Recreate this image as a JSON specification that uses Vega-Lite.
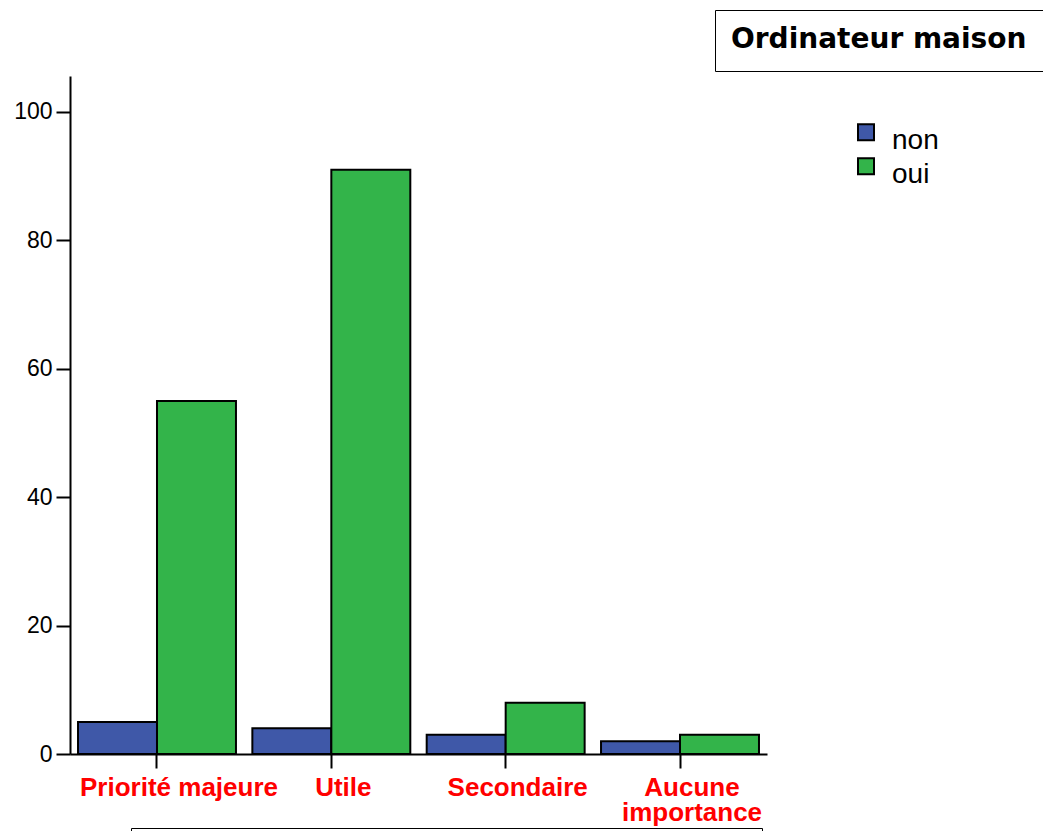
{
  "$schema": "https://vega.github.io/schema/vega-lite/v6.json",
  "width": 697,
  "height": 678,
  "autosize": {"type": "none"},
  "padding": {"left": 70, "top": 76, "right": 276, "bottom": 77},
  "background": "white",
  "config": {"view": {"stroke": null}},
  "data": {
    "values": [
      {"cat": "Priorité majeure", "grp": "non", "val": 5},
      {"cat": "Priorité majeure", "grp": "oui", "val": 55},
      {"cat": "Utile", "grp": "non", "val": 4},
      {"cat": "Utile", "grp": "oui", "val": 91},
      {"cat": "Secondaire", "grp": "non", "val": 3},
      {"cat": "Secondaire", "grp": "oui", "val": 8},
      {"cat": "Aucune importance", "grp": "non", "val": 2},
      {"cat": "Aucune importance", "grp": "oui", "val": 3}
    ]
  },
  "layer": [
    {
      "mark": {"type": "bar", "stroke": "black", "strokeWidth": 2},
      "encoding": {
        "x": {
          "field": "cat",
          "type": "nominal",
          "sort": ["Priorité majeure", "Utile", "Secondaire", "Aucune importance"],
          "scale": {"paddingInner": 0.094, "paddingOuter": 0.046},
          "title": null,
          "axis": {
            "labelAngle": 0,
            "labelColor": "#FF0000",
            "labelFont": "Liberation Sans",
            "labelFontWeight": "bold",
            "labelFontSize": 26,
            "labelLineHeight": 25,
            "labelLimit": 0,
            "labelPadding": 6,
            "labelOffset": {"condition": {"test": "datum.value == 'Priorité majeure'", "value": 22}, "value": 12},
            "labelExpr": "datum.label == 'Aucune importance' ? ['Aucune', 'importance'] : datum.label",
            "tickSize": 14,
            "tickWidth": 2,
            "tickColor": "black",
            "domainColor": "black",
            "domainWidth": 2
          }
        },
        "xOffset": {
          "field": "grp",
          "type": "nominal",
          "sort": ["non", "oui"],
          "scale": {"paddingInner": 0, "paddingOuter": 0}
        },
        "y": {
          "field": "val",
          "type": "quantitative",
          "scale": {"domain": [0, 105.6], "nice": false},
          "title": null,
          "axis": {
            "values": [0, 20, 40, 60, 80, 100],
            "grid": false,
            "labelFont": "Liberation Sans",
            "labelFontSize": 23,
            "labelColor": "black",
            "labelPadding": 4,
            "tickSize": 14,
            "tickWidth": 2,
            "tickColor": "black",
            "domainColor": "black",
            "domainWidth": 2
          }
        },
        "color": {
          "field": "grp",
          "type": "nominal",
          "scale": {"domain": ["non", "oui"], "range": ["#3F58A8", "#33B44A"]},
          "legend": {
            "title": null,
            "orient": "none",
            "legendX": 782,
            "legendY": 51,
            "padding": 0,
            "symbolType": "M-1,-2.1H1V-0.1H-1Z",
            "symbolSize": 256,
            "symbolStrokeColor": "black",
            "symbolStrokeWidth": 2,
            "symbolOpacity": 1,
            "labelFont": "Liberation Sans",
            "labelFontSize": 28,
            "labelColor": "black",
            "labelOffset": 12,
            "rowPadding": -1
          }
        }
      }
    },
    {
      "mark": {"type": "point", "opacity": 0, "size": 0, "strokeWidth": 0},
      "encoding": {
        "shape": {
          "datum": "t",
          "type": "nominal",
          "legend": {
            "title": "Ordinateur maison",
            "titleFont": "DejaVu Sans",
            "titleFontWeight": "bold",
            "titleFontSize": 28,
            "titleColor": "black",
            "titlePadding": 0,
            "titleLimit": 1000,
            "orient": "none",
            "legendX": 645,
            "legendY": -66,
            "padding": 16,
            "strokeColor": "black",
            "fillColor": "white",
            "symbolSize": 0,
            "symbolOpacity": 0,
            "symbolStrokeWidth": 0,
            "labelExpr": "''",
            "labelFontSize": 1
          }
        }
      }
    },
    {
      "mark": {"type": "point", "fillOpacity": 0, "strokeOpacity": 0},
      "encoding": {
        "opacity": {
          "datum": "u",
          "type": "ordinal",
          "scale": {"range": [0]},
          "legend": {
            "title": null,
            "orient": "none",
            "legendX": 61,
            "legendY": 752,
            "padding": 10,
            "strokeColor": "black",
            "fillColor": "white",
            "symbolType": "M-1,-0.01H1V0.01H-1Z",
            "symbolSize": 373321,
            "symbolOpacity": 0,
            "symbolStrokeWidth": 0,
            "labelExpr": "''",
            "labelFontSize": 1,
            "labelOffset": 0
          }
        }
      }
    }
  ]
}
